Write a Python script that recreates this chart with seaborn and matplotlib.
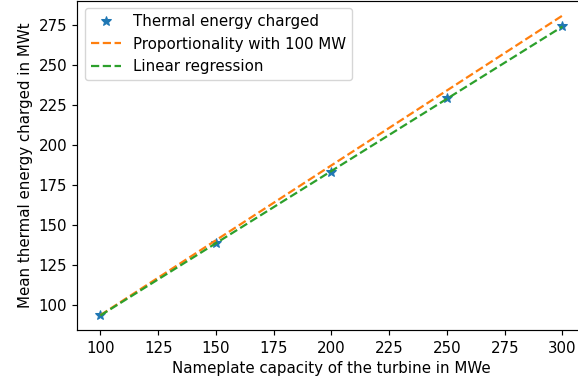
import numpy as np
import pandas as pd
import matplotlib
matplotlib.use("Agg")
import matplotlib.pyplot as plt
import seaborn as sns

# Turbine nameplate capacity (MWe) and mean thermal energy charged (MWt)
capacity = [100, 150, 200, 250, 300]
energy = [93.7, 138.8, 183.0, 229.5, 274.3]

cap = np.array(capacity, dtype=float)
en = np.array(energy, dtype=float)

# Proportional scaling from the 100 MW case
proportional = en[0] * cap / cap[0]

# Least-squares linear fit
slope, intercept = np.polyfit(cap, en, 1)
regression = slope * cap + intercept

df = pd.DataFrame({
    "capacity": cap,
    "energy": en,
    "proportional": proportional,
    "regression": regression,
})

plt.rcParams.update({
    "font.family": ["DejaVu Sans"],
    "font.size": 10.8,
    "axes.edgecolor": "black",
    "axes.linewidth": 0.85,
    "xtick.major.width": 0.85,
    "ytick.major.width": 0.85,
    "xtick.major.size": 3.8,
    "ytick.major.size": 3.8,
})

fig = plt.figure(figsize=(5.78, 3.85), dpi=100)
ax = fig.add_axes([0.1337, 0.1416, 1.0131 - 0.1337, 0.9985 - 0.1416])

palette = sns.color_palette("tab10")

sns.lineplot(data=df, x="capacity", y="energy", ax=ax, marker="*",
             linestyle="", markersize=7, color=palette[0],
             markeredgecolor=palette[0], label="Thermal energy charged")
sns.lineplot(data=df, x="capacity", y="proportional", ax=ax,
             linestyle="--", color=palette[1], linewidth=1.6,
             label="Proportionality with 100 MW")
sns.lineplot(data=df, x="capacity", y="regression", ax=ax,
             linestyle="--", color=palette[2], linewidth=1.6,
             label="Linear regression")

ax.set_xlim(90, 310)
lo = min(en.min(), proportional.min(), regression.min())
hi = max(en.max(), proportional.max(), regression.max())
pad = 0.05 * (hi - lo)
ax.set_ylim(lo - pad, hi + pad)

ax.set_xticks(np.arange(100, 301, 25))
ax.set_yticks(np.arange(100, 276, 25))
ax.set_xlabel("Nameplate capacity of the turbine in MWe")
ax.set_ylabel("Mean thermal energy charged in MWt")
ax.legend(loc="upper left")

fig.savefig("out.png", dpi=100)
